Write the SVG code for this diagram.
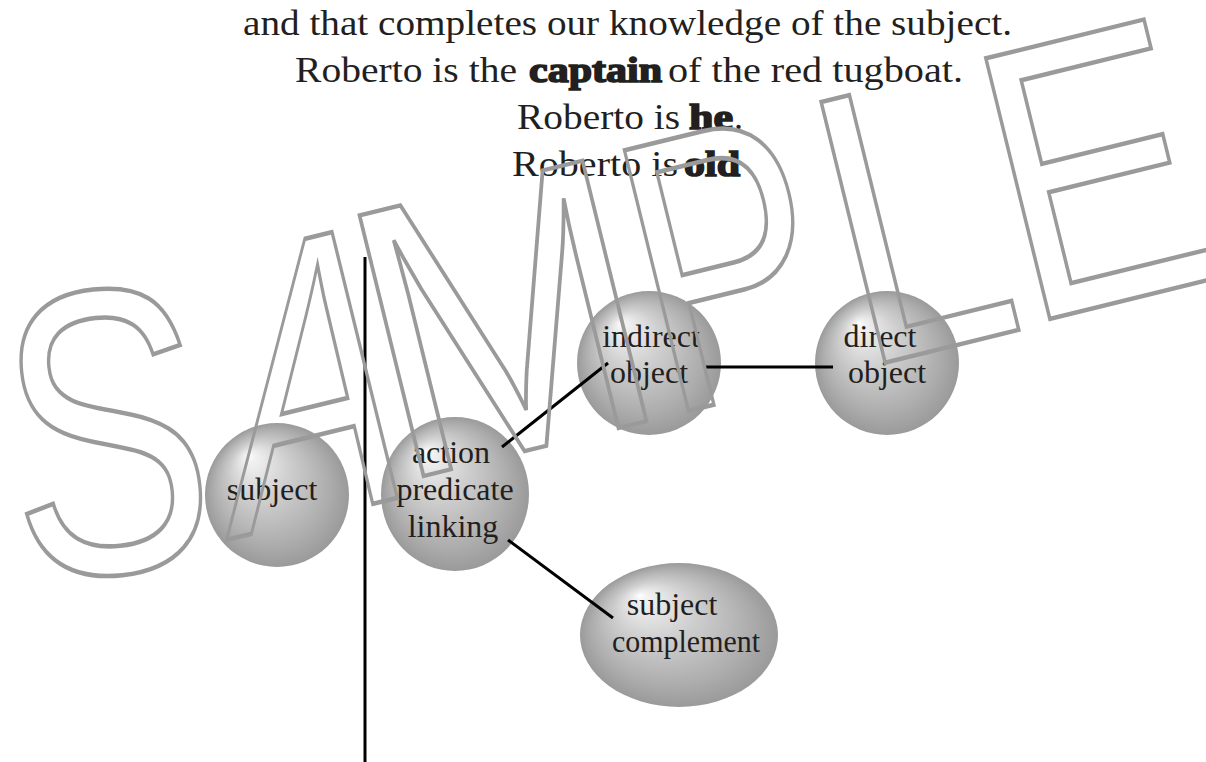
<svg xmlns="http://www.w3.org/2000/svg" width="1206" height="762" viewBox="0 0 1206 762">
<defs>
<radialGradient id="sph" cx="0.5" cy="0.5" r="0.5" fx="0.3" fy="0.22">
<stop offset="0" stop-color="#ffffff"/>
<stop offset="0.06" stop-color="#f2f2f2"/>
<stop offset="0.4" stop-color="#cfcfcf"/>
<stop offset="0.8" stop-color="#adadad"/>
<stop offset="1" stop-color="#9a9a9a"/>
</radialGradient>
<style>
.hd{font-family:"Liberation Serif",serif;font-size:36px;fill:#231f20}
.bd{font-family:"Liberation Serif",serif;font-size:36px;font-weight:bold;fill:#231f20;stroke:#231f20;stroke-width:1.6px}
.lb{font-family:"Liberation Serif",serif;font-size:32px;fill:#231f20;text-anchor:middle}
.ball{fill:url(#sph)}
.con{stroke:#000;stroke-width:3;fill:none}
.wm{font-family:"Liberation Sans",Arial,sans-serif;font-size:390px;fill:none;stroke:#9a9a9a;stroke-width:4;vector-effect:non-scaling-stroke}
</style>
</defs>
<rect width="1206" height="762" fill="#fff"/>
<g id="heading">
<text class="hd" x="243" y="35" textLength="769" lengthAdjust="spacingAndGlyphs">and that completes our knowledge of the subject.</text>
<text class="hd" x="295" y="82" textLength="222" lengthAdjust="spacingAndGlyphs">Roberto is the</text>
<text class="bd" x="529" y="82" textLength="133" lengthAdjust="spacingAndGlyphs">captain</text>
<text class="hd" x="668" y="82" textLength="295" lengthAdjust="spacingAndGlyphs">of the red tugboat.</text>
<text class="hd" x="517" y="129" textLength="163" lengthAdjust="spacingAndGlyphs">Roberto is</text>
<text class="bd" x="689" y="129" textLength="44" lengthAdjust="spacingAndGlyphs">he</text>
<text class="hd" x="734" y="129">.</text>
<text class="hd" x="512" y="176" textLength="166" lengthAdjust="spacingAndGlyphs">Roberto is</text>
<text class="bd" x="684" y="176" textLength="56" lengthAdjust="spacingAndGlyphs">old</text>
</g>
<g id="divider">
<line x1="365" y1="257" x2="365" y2="762" stroke="#000" stroke-width="3"/>
</g>
<g id="node-subject">
<circle class="ball" cx="277" cy="495" r="72"/>
<text class="lb" x="272" y="500">subject</text>
</g>
<g id="node-predicate">
<ellipse class="ball" cx="455" cy="494" rx="74" ry="77"/>
<text class="lb" x="451" y="463">action</text>
<text class="lb" x="455" y="500">predicate</text>
<text class="lb" x="453" y="537">linking</text>
</g>
<g id="node-indirect">
<ellipse class="ball" cx="649" cy="363" rx="72" ry="72"/>
<text class="lb" x="651" y="347">indirect</text>
<text class="lb" x="649" y="383">object</text>
</g>
<g id="node-direct">
<circle class="ball" cx="887" cy="363" r="72"/>
<text class="lb" x="880" y="347">direct</text>
<text class="lb" x="887" y="383">object</text>
</g>
<g id="node-complement">
<ellipse class="ball" cx="679" cy="635" rx="99" ry="72"/>
<text class="lb" x="672" y="615">subject</text>
<text class="lb" x="686" y="652" textLength="148" lengthAdjust="spacingAndGlyphs">complement</text>
</g>
<g id="connectors">
<line class="con" x1="502" y1="447" x2="608" y2="363"/>
<line class="con" x1="705" y1="367" x2="833" y2="367"/>
<line class="con" x1="508" y1="540" x2="613" y2="618"/>
</g>
<g id="watermark">
<text class="wm" transform="translate(20,582) rotate(-6) scale(0.78,1.04)">S</text>
<text class="wm" transform="translate(226,540) rotate(-13.8) skewX(-15) scale(0.68,1.02)">A</text>
<text class="wm" transform="translate(396.2,482.7) rotate(-13.8) scale(0.88,1)">M</text>
<text class="wm" transform="translate(666.1,416.4) rotate(-13.8) scale(0.72,1)">P</text>
<text class="wm" transform="translate(860.3,368.7) rotate(-13.8) scale(0.8,1)">L</text>
<text class="wm" transform="translate(1025,325) rotate(-13.8) scale(0.8,1)">E</text>
</g>
</svg>
